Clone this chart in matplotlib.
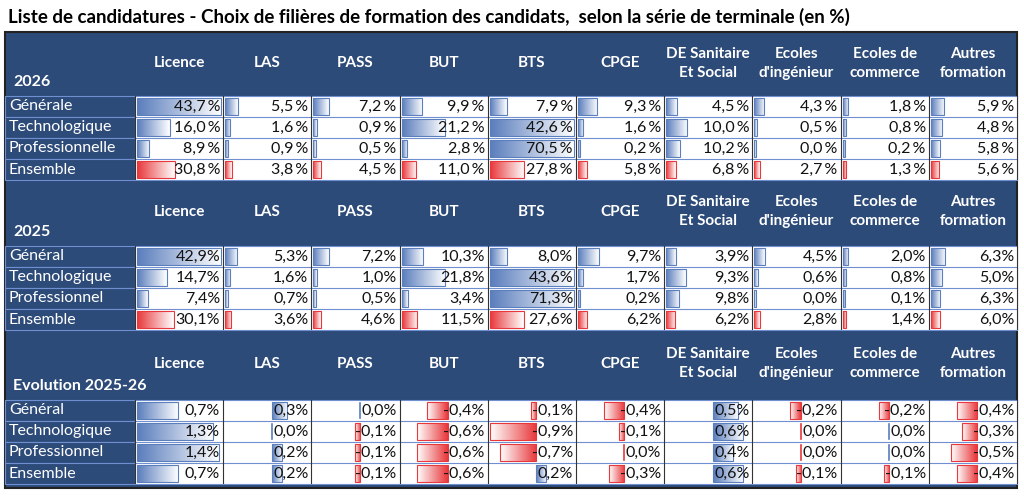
import matplotlib
matplotlib.use("Agg")
import matplotlib.pyplot as plt
import numpy as np
from matplotlib.colors import LinearSegmentedColormap

plt.rcParams['font.family'] = ['Lato', 'DejaVu Sans']

title = "Liste de candidatures - Choix de filières de formation des candidats,  selon la série de terminale (en %)"
columns = ["Licence", "LAS", "PASS", "BUT", "BTS", "CPGE", "DE Sanitaire\nEt Social",
           "Ecoles\nd'ingénieur", "Ecoles de\ncommerce", "Autres\nformation"]

rows_2026 = ["Générale", "Technologique", "Professionnelle", "Ensemble"]
vals_2026 = [[43.7, 5.5, 7.2, 9.9, 7.9, 9.3, 4.5, 4.3, 1.8, 5.9],
             [16.0, 1.6, 0.9, 21.2, 42.6, 1.6, 10.0, 0.5, 0.8, 4.8],
             [8.9, 0.9, 0.5, 2.8, 70.5, 0.2, 10.2, 0.0, 0.2, 5.8],
             [30.8, 3.8, 4.5, 11.0, 27.8, 5.8, 6.8, 2.7, 1.3, 5.6]]
rows_2025 = ["Général", "Technologique", "Professionnel", "Ensemble"]
vals_2025 = [[42.9, 5.3, 7.2, 10.3, 8.0, 9.7, 3.9, 4.5, 2.0, 6.3],
             [14.7, 1.6, 1.0, 21.8, 43.6, 1.7, 9.3, 0.6, 0.8, 5.0],
             [7.4, 0.7, 0.5, 3.4, 71.3, 0.2, 9.8, 0.0, 0.1, 6.3],
             [30.1, 3.6, 4.6, 11.5, 27.6, 6.2, 6.2, 2.8, 1.4, 6.0]]
rows_evo = ["Général", "Technologique", "Professionnel", "Ensemble"]
vals_evo = [[0.7, 0.3, 0.0, -0.4, -0.1, -0.4, 0.5, -0.2, -0.2, -0.4],
            [1.3, 0.0, -0.1, -0.6, -0.9, -0.1, 0.6, 0.0, 0.0, -0.3],
            [1.4, 0.2, -0.1, -0.6, -0.7, 0.0, 0.4, 0.0, 0.0, -0.5],
            [0.7, 0.2, -0.1, -0.6, 0.2, -0.3, 0.6, -0.1, -0.1, -0.4]]

NAVY = "#2D4B79"
BLUE = "#5B7EBD"
RED = "#E8383B"
blue_cm = LinearSegmentedColormap.from_list("b", [BLUE, "#FFFFFF"])
red_cm = LinearSegmentedColormap.from_list("r", [RED, "#FFFFFF"])
grad = np.linspace(0, 1, 64).reshape(1, -1)

fig = plt.figure(figsize=(10.24, 4.96), dpi=100)
ax = fig.add_axes([0, 0, 1, 1])
ax.set_xlim(0, 1024)
ax.set_ylim(496, 0)
ax.axis('off')

X0, LW = 5, 130
CW = 88.2
XE = X0 + LW + CW * 10

ax.text(8, 17, title, fontsize=13.5, fontweight='bold', va='center', ha='left', color='black')
ax.add_patch(plt.Rectangle((X0, 32), XE - X0, 456, facecolor=NAVY, edgecolor='#222222', lw=1.5, zorder=0))

def bar(x, y, w, h, cmap, flip=False):
    if w < 0.5:
        return
    g = grad[:, ::-1] if flip else grad
    ax.imshow(g, cmap=cmap, extent=[x, x + w, y + h, y], aspect='auto', zorder=2, interpolation='bilinear')
    ax.add_patch(plt.Rectangle((x, y), w, h, fill=False, edgecolor=cmap(0.0), lw=0.8, zorder=3))

def section(ytop, hh, label, rnames, vals, fmt, evo=False):
    rh = 21
    ax.text(X0 + 8, ytop + hh - 14, label, color='white', fontsize=11.5, fontweight='bold', va='center')
    for j, c in enumerate(columns):
        cx = X0 + LW + CW * (j + 0.5)
        ax.text(cx, ytop + hh * 0.48, c, color='white', fontsize=11, fontweight='bold',
                ha='center', va='center', linespacing=1.45)
    y0 = ytop + hh
    arr = np.array(vals)
    gmax = np.abs(arr).max()
    negmax = np.abs(arr[arr < 0]).max() if evo else 1
    for i, rn in enumerate(rnames):
        y = y0 + i * rh
        ax.add_patch(plt.Rectangle((X0, y), LW, rh, facecolor=NAVY, edgecolor='#6F8FD0', lw=0.8, zorder=1))
        ax.text(X0 + 4, y + rh / 2, rn, color='white', fontsize=11.5, va='center')
        for j in range(10):
            x = X0 + LW + CW * j
            ax.add_patch(plt.Rectangle((x, y), CW, rh, facecolor='white', edgecolor='none', zorder=1))
            v = vals[i][j]
            bh = rh - 4
            if not evo:
                scale = gmax if i == 3 else max(vals[i])
                w = 2 + (CW - 6) * v / scale
                bar(x + 2, y + 2, w, bh, red_cm if i == 3 else blue_cm)
            else:
                unit = 0.55 * (CW - 4) / negmax
                if j == 0:
                    ax0 = x + 2
                    unit = (CW - 6) / gmax
                else:
                    ax0 = x + 2 + 0.55 * (CW - 4)
                if v > 0:
                    bar(ax0, y + 2, max(2, v * unit), bh, blue_cm)
                elif v < 0:
                    w = max(2, -v * unit)
                    bar(ax0 - w, y + 2, w, bh, red_cm, flip=True)
                else:
                    ax.plot([ax0, ax0], [y + 3, y + rh - 3], color=RED if j in (5, 7) else BLUE, lw=1.2, zorder=3)
            ax.text(x + CW - 3, y + rh / 2 + 0.5, fmt(v), fontsize=11.5, ha='right', va='center',
                    color='#111111', zorder=4)
        ax.plot([X0 + LW, XE], [y, y], color='#6F8FD0', lw=0.8, zorder=5)
    for j in range(11):
        x = X0 + LW + CW * j
        ax.plot([x, x], [y0, y0 + 4 * rh], color='#333333', lw=0.8, zorder=5)
    ax.plot([X0 + LW, XE], [y0 + 4 * rh, y0 + 4 * rh], color='#6F8FD0', lw=0.8, zorder=5)

f26 = lambda v: f"{v:.1f}".replace('.', ',') + "\u2009%"
f25 = lambda v: f"{v:.1f}".replace('.', ',') + "%"
section(33, 63, "2026", rows_2026, vals_2026, f26)
section(180, 66, "2025", rows_2025, vals_2025, f25)
section(330, 70, "Evolution 2025-26", rows_evo, vals_evo, f25, evo=True)

fig.savefig("out.png", dpi=100)
